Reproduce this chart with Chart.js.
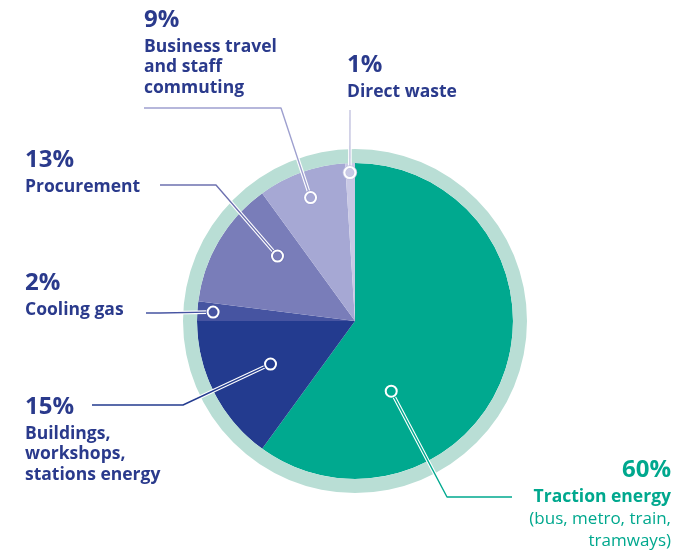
<!DOCTYPE html>
<html>
<head>
<meta charset="utf-8">
<script src="https://cdn.jsdelivr.net/npm/chart.js@4.4.1/dist/chart.umd.min.js"></script>
<style>
  html, body { margin: 0; padding: 0; background: #ffffff; }
  #grafico { display: block; }
</style>
</head>
<body>
<canvas id="grafico" width="678" height="557"></canvas>
<script>
// datos del gráfico (porcentaje de emisiones)
const categorias = ['Traction energy', 'Buildings, workshops, stations energy', 'Cooling gas', 'Procurement', 'Business travel and staff commuting', 'Direct waste'];
const valores = [60, 15, 2, 13, 9, 1];
const colores = ['#00a98f', '#233b8f', '#4654a1', '#797db9', '#a6a8d4', '#c9c9e5'];
const anillo = [100];

// textos de las etiquetas
const porcentajes = ['60%', '15%', '2%', '13%', '9%', '1%'];
const textosEtiqueta = [
  ['Traction energy'],
  ['Buildings,', 'workshops,', 'stations energy'],
  ['Cooling gas'],
  ['Procurement'],
  ['Business travel', 'and staff', 'commuting'],
  ['Direct waste']
];
const textosExtra = [['(bus, metro, train,', 'tramways)'], [], [], [], [], []];

const azulTexto = '#2a3a8c';
const verdeTexto = '#00a88e';

// posicion de cada etiqueta y su linea guia
const etiquetas = [
  { t: 0.707, r: 0.50, codo: [447, 497], fin: [512, 497], x: 671, y: 477, align: 'right', color: verdeTexto, linea: '#00a98f' },
  { t: 0.50, r: 0.60, codo: [183, 405], fin: [92, 405], x: 25, y: 414, align: 'left', color: azulTexto, linea: '#233b8f' },
  { t: 0.50, r: 0.90, codo: [160, 313], fin: [146, 313], x: 25, y: 290, align: 'left', color: azulTexto, linea: '#4654a1' },
  { t: 0.70, r: 0.64, codo: [216, 185], fin: [160, 185], x: 25, y: 167, align: 'left', color: azulTexto, linea: '#6d71b0' },
  { t: 0.50, r: 0.83, codo: [281, 108], fin: [144, 108], x: 144, y: 27, align: 'left', color: azulTexto, linea: '#9ea0cf' },
  { t: 0.45, r: 0.94, codo: [350, 110], fin: [350, 110], x: 347, y: 72, align: 'left', color: azulTexto, linea: '#c3c3e0' }
];

const pluginEtiquetas = {
  id: 'etiquetas',
  afterDraw(chart) {
    const ctx = chart.ctx;
    const meta = chart.getDatasetMeta(1);
    const rMarca = 5.5;
    ctx.save();
    meta.data.forEach((arco, i) => {
      const e = etiquetas[i];
      const p = arco.getProps(['x', 'y', 'startAngle', 'endAngle', 'outerRadius'], true);
      const ang = p.startAngle + (p.endAngle - p.startAngle) * e.t;
      const mx = p.x + Math.cos(ang) * p.outerRadius * e.r;
      const my = p.y + Math.sin(ang) * p.outerRadius * e.r;

      // la linea empieza en el borde del marcador
      const dx = e.codo[0] - mx, dy = e.codo[1] - my;
      const d = Math.hypot(dx, dy) || 1;
      const sx = mx + dx / d * rMarca, sy = my + dy / d * rMarca;

      ctx.lineJoin = 'round';
      ctx.beginPath();
      ctx.moveTo(sx, sy);
      ctx.lineTo(e.codo[0], e.codo[1]);
      ctx.lineTo(e.fin[0], e.fin[1]);
      ctx.strokeStyle = '#ffffff';
      ctx.lineWidth = 3.6;
      ctx.stroke();
      ctx.strokeStyle = e.linea;
      ctx.lineWidth = 1.4;
      ctx.stroke();

      // marcador circular
      ctx.beginPath();
      ctx.arc(mx, my, rMarca, 0, Math.PI * 2);
      ctx.strokeStyle = e.linea;
      ctx.lineWidth = 3.6;
      ctx.stroke();
      ctx.strokeStyle = '#ffffff';
      ctx.lineWidth = 2;
      ctx.stroke();

      // textos
      ctx.fillStyle = e.color;
      ctx.textAlign = e.align;
      ctx.textBaseline = 'alphabetic';
      ctx.font = 'bold 24px "Open Sans"';
      ctx.fillText(porcentajes[i], e.x, e.y);
      let y = e.y + 24.5;
      ctx.font = 'bold 17.5px "Open Sans"';
      textosEtiqueta[i].forEach(linea => {
        ctx.fillText(linea, e.x, y);
        y += 20.5;
      });
      ctx.font = '17px "Open Sans"';
      y += 2;
      textosExtra[i].forEach(linea => {
        ctx.fillText(linea, e.x, y);
        y += 22;
      });
    });
    ctx.restore();
  }
};

new Chart(document.getElementById('grafico'), {
  type: 'doughnut',
  data: {
    labels: categorias,
    datasets: [
      {
        data: anillo,
        backgroundColor: ['#b9ded5'],
        borderWidth: 0,
        hoverOffset: 0,
        weight: 14
      },
      {
        data: valores,
        backgroundColor: colores,
        borderWidth: 0,
        hoverOffset: 0,
        weight: 158
      }
    ]
  },
  options: {
    responsive: false,
    animation: false,
    cutout: 0,
    layout: { padding: { top: 149, bottom: 64, left: 183, right: 151 } },
    plugins: {
      legend: { display: false },
      tooltip: { enabled: false }
    },
    events: []
  },
  plugins: [pluginEtiquetas]
});
</script>
</body>
</html>
